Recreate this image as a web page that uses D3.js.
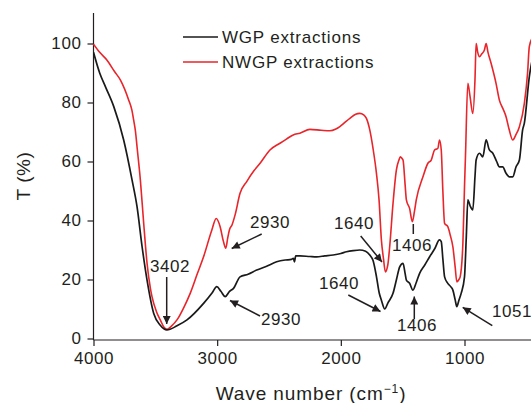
<!DOCTYPE html>
<html><head><meta charset="utf-8">
<script src="https://cdn.jsdelivr.net/npm/d3@7/dist/d3.min.js"></script>
<style>body{margin:0;background:#fff}svg{display:block}text{font-family:"Liberation Sans",Arial,sans-serif;fill:#231f20}</style>
</head><body><svg id="c" width="531" height="403"></svg>
<script>
const xTicks = [4000, 3000, 2000, 1000];
const yTicks = [0, 20, 40, 60, 80, 100];
const seriesNames = ["WGP extractions", "NWGP extractions"];
const wgpWave = [4000,3950,3903,3836,3756,3688,3648,3607,3567,3513,3460,3406,3325,3244,3110,3040,3003,2970,2935,2900,2868,2815,2750,2680,2600,2519,2450,2400,2384,2375,2365,2331,2250,2196,2130,2062,2000,1954,1900,1847,1800,1766,1740,1712,1690,1672,1645,1620,1578,1550,1524,1497,1480,1470,1444,1417,1390,1363,1320,1282,1240,1202,1188,1175,1161,1135,1110,1094,1075,1062,1045,1027,1000,985,973,955,933,915,906,879,852,825,800,771,740,718,691,664,637,610,583,556,530,516,476,450];
const wgpT = [97,90,85.3,78.6,67.3,53.7,44.7,31.1,19.8,8.5,4.5,2.9,4.3,6.3,11.9,15.5,17.6,16,14.2,16,17,20.9,21.8,23.2,24.5,26,26.6,26.8,27.2,26,28,28,27.8,27.7,28,28.3,28.8,29.4,29.8,30,29.6,28.3,26.5,21,15.5,13,10,12,15.3,20,24.3,25.5,22,19.8,18.7,16.4,19,22.1,25,27.7,30.5,33.4,32.8,27,20.9,18.7,17.5,16.4,13,10.8,13,15.3,20.9,35,47,45,43.6,55,60.5,62.8,61.6,67.3,64,62.8,60,58.2,58.2,56,54.8,54.8,58.2,60.5,70.7,73,88.7,95];
const nwgpWave = [4000,3950,3892,3830,3782,3715,3690,3675,3660,3648,3621,3594,3567,3540,3527,3490,3460,3430,3406,3370,3325,3270,3218,3160,3110,3043,3008,2976,2950,2930,2915,2901,2880,2855,2815,2761,2700,2653,2573,2492,2440,2385,2331,2250,2160,2089,2040,2008,1960,1927,1880,1847,1815,1793,1766,1740,1712,1691,1672,1655,1640,1620,1605,1578,1551,1530,1519,1505,1497,1480,1470,1444,1422,1405,1390,1336,1296,1269,1242,1215,1202,1188,1175,1161,1135,1115,1094,1075,1062,1045,1035,1013,1000,992,973,955,933,915,906,893,879,860,839,825,810,785,745,718,690,664,640,610,585,556,516,490,476,450];
const nwgpT = [99.8,97,94.4,90.5,87.6,80.8,77.5,74,70,65,53.7,39,25.5,17,14.2,9,6.3,3.8,3.1,4.2,6.3,10.5,15.3,22,27.7,36.8,40.7,37.9,33,30.6,34,36.8,38.5,41.9,49.2,53.2,57,59.4,63.9,66.2,67.6,69,69.6,70.9,70.6,70.4,71,71.8,73.5,74.6,76,76.3,75.8,74.6,70.7,64.5,56,47,33.4,27,22.6,25,31.1,45.8,57.1,60.5,61.6,61,60.5,52,47,44.1,39.6,43,47,54.8,59.4,60.5,63.9,64.5,67.3,63.9,50,39,37.9,35,31.1,24,19.2,20,20.9,32.3,51.4,62,86.5,82,76.3,88,100,97,95.5,96.5,97.8,100,97,93.3,86.5,80.8,78,75.2,71,67.3,69,71.8,79.7,90,98.9,102];
const annLabels = ["3402","2930","2930","1640","1640","1406","1406","1051"];

const svg = d3.select("#c");
const x = d3.scaleLinear().domain([4000, 1000]).range([93.5, 464.5]);
const y = d3.scaleLinear().domain([0, 100]).range([338.5, 43.5]);
const ink = "#231f20";
const FS = 17, LS = "0.6px";

svg.append("defs").append("marker").attr("id","ah").attr("viewBox","0 0 10 10")
  .attr("refX",10).attr("refY",5).attr("markerWidth",9).attr("markerHeight",8)
  .attr("markerUnits","userSpaceOnUse").attr("orient","auto")
  .append("path").attr("d","M0,0L10,5L0,10Z").attr("fill",ink);

const gx = svg.append("g").attr("transform","translate(0,340)")
  .call(d3.axisBottom(x).tickValues(xTicks).tickSize(6).tickPadding(6).tickFormat(d3.format("d")));
gx.select(".domain").remove();
svg.append("line").attr("x1",93.5).attr("x2",531).attr("y1",340).attr("y2",340).attr("stroke",ink).attr("stroke-width",1.2);
const gy = svg.append("g").attr("transform","translate(93.5,0)")
  .call(d3.axisLeft(y).tickValues(yTicks).tickSize(6).tickPadding(6));
gy.select(".domain").remove();
svg.append("line").attr("x1",93.5).attr("x2",93.5).attr("y1",13).attr("y2",340).attr("stroke",ink).attr("stroke-width",1.2);
svg.selectAll(".tick line").attr("stroke",ink).attr("stroke-width",1.2);
svg.selectAll(".tick text").attr("font-size",FS).attr("fill",ink).attr("letter-spacing",LS)
  .style("font-family","Liberation Sans, Arial, sans-serif");

svg.append("text").attr("x",311).attr("y",400).attr("text-anchor","middle").attr("font-size",19).attr("letter-spacing","0.9px")
  .html('Wave number (cm<tspan dy="-7" font-size="12">−1</tspan><tspan dy="7">)</tspan>');
svg.append("text").attr("transform","translate(30,176) rotate(-90)").attr("text-anchor","middle").attr("font-size",19).attr("letter-spacing","0.6px").text("T (%)");

const line = d3.line().x(d=>x(d[0])).y(d=>y(d[1])).curve(d3.curveMonotoneX);
svg.append("defs").append("clipPath").attr("id","cp").append("rect").attr("x",93).attr("y",0).attr("width",438).attr("height",340);
const plot = svg.append("g").attr("clip-path","url(#cp)");
plot.append("path").datum(nwgpWave.map((w,i)=>[w,nwgpT[i]])).attr("d",line)
  .attr("fill","none").attr("stroke","#e8252a").attr("stroke-width",1.6).attr("stroke-linejoin","round");
plot.append("path").datum(wgpWave.map((w,i)=>[w,wgpT[i]])).attr("d",line)
  .attr("fill","none").attr("stroke","#1a1a1a").attr("stroke-width",1.7).attr("stroke-linejoin","round");

const leg = [[seriesNames[0],"#1a1a1a",37],[seriesNames[1],"#e8252a",62]];
leg.forEach(([n,c,yy])=>{
  svg.append("line").attr("x1",183).attr("x2",218).attr("y1",yy).attr("y2",yy).attr("stroke",c).attr("stroke-width",1.6);
  svg.append("text").attr("x",222).attr("y",yy).attr("dy","0.35em").attr("font-size",FS).attr("letter-spacing","0.8px").text(n);
});

const ann = [
  [annLabels[0],170,266,166.7,277,166.7,324,true],
  [annLabels[1],270,222,261.7,234,231.7,248.5,true],
  [annLabels[2],281,319,260,316,230,300.5,true],
  [annLabels[3],354,223,360.7,236,382,262,true],
  [annLabels[4],339,283,348.3,295,380.5,311.5,true],
  [annLabels[5],412,245,413.3,234,413.3,224,false],
  [annLabels[6],417,325,414.3,319,414.3,296.5,true],
  [annLabels[7],512,311,492.3,325.7,462.7,307.3,true]
];
ann.forEach(a=>{
  svg.append("text").attr("x",a[1]).attr("y",a[2]).attr("dy","0.35em").attr("text-anchor","middle").attr("font-size",FS).attr("letter-spacing",LS).text(a[0]);
  const l = svg.append("line").attr("x1",a[3]).attr("y1",a[4]).attr("x2",a[5]).attr("y2",a[6]).attr("stroke",ink).attr("stroke-width",1.5);
  if (a[7]) l.attr("marker-end","url(#ah)");
});
</script></body></html>
